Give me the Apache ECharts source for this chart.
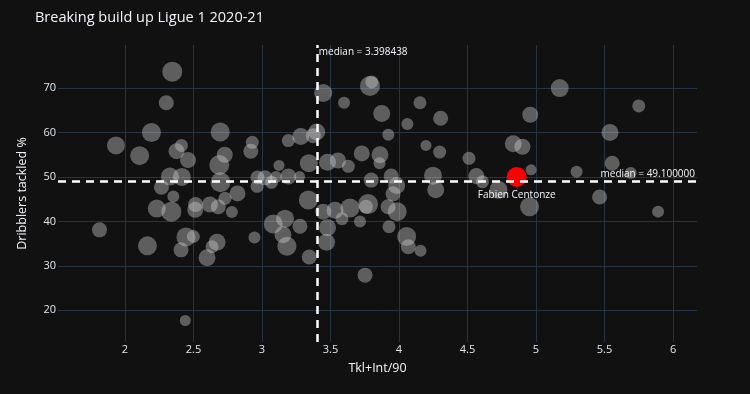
<!DOCTYPE html>
<html><head><meta charset="utf-8">
<script src="https://cdn.jsdelivr.net/npm/echarts@6/dist/echarts.min.js"></script>
<style>html,body{margin:0;padding:0;background:#111111;}#c{width:750px;height:394px;}</style>
</head><body><div id="c"></div>
<script>
const chartTitle = 'Breaking build up Ligue 1 2020-21';
const xName = 'Tkl+Int/90';
const yName = 'Dribblers tackled %';
const xTicks = [2, 2.5, 3, 3.5, 4, 4.5, 5, 5.5, 6];
const yTicks = [20, 30, 40, 50, 60, 70];
const xRange = [1.511, 6.175];
const yRange = [12.86, 79.7];
const medianX = 3.398438;
const medianY = 49.1;

const tklInt = [2.345,2.301,2.193,1.934,2.107,2.412,2.376,2.460,2.695,2.728,2.688,2.929,2.918,2.328,2.415,2.266,2.697,2.821,3.124,3.342,
2.353,2.232,2.338,2.515,2.513,2.620,2.681,2.780,2.730,2.967,3.022,3.069,2.964,3.102,3.192,3.274,3.338,3.447,1.814,2.164,
2.445,2.499,2.672,2.635,2.409,2.599,2.945,3.082,3.168,3.277,3.153,3.182,2.440,3.533,3.642,3.774,3.920,3.987,3.956,4.268,
3.345,3.478,3.471,3.584,3.715,3.927,4.056,4.068,4.157,3.752,3.447,3.788,3.801,3.599,3.874,4.153,4.304,4.061,3.922,3.399,
3.192,3.283,3.374,3.478,3.555,3.630,3.728,3.861,3.858,4.197,4.297,4.511,4.564,4.248,3.943,3.983,3.797,3.759,4.834,4.901,
4.964,4.609,4.726,5.296,5.556,5.691,5.464,4.953,5.891,5.173,5.750,4.958,5.540];
const dribTackled = [73.7,66.7,60.0,57.1,54.8,57.1,55.8,53.8,60.1,55.0,52.7,57.8,55.8,50.1,50.0,47.7,48.8,46.3,52.6,53.1,
45.6,42.9,42.2,43.8,42.6,43.8,43.3,42.1,45.2,49.9,49.8,48.8,47.9,50.0,50.1,50.1,44.8,42.2,38.1,34.5,
36.5,36.6,35.3,34.3,33.6,31.8,36.4,39.4,40.6,38.9,37.0,34.4,17.7,42.5,43.0,43.9,43.3,42.2,46.2,47.1,
32.0,38.6,35.3,40.6,40.0,38.8,36.6,34.3,33.4,27.9,68.9,70.5,71.4,66.7,64.3,66.7,63.2,61.9,59.5,60.1,
58.2,59.1,59.3,53.3,53.7,52.4,55.3,55.0,53.1,57.1,55.6,54.2,50.2,50.3,50.2,48.1,49.3,43.3,57.5,56.8,
51.6,48.9,47.1,51.2,53.1,50.9,45.5,43.3,42.2,70.0,66.0,64.0,60.0];
const bubbleMetric = [10,7.5,9.5,9,9.5,6.5,8,8,9.5,8,10,6.5,7.5,9,9,7.5,10,8,5.5,9,
6,9,10,7.5,8,8,7.5,6,6.5,7,7.5,6.5,6.5,6,8,5.5,9.5,8,7.5,9.5,
9.5,6.5,8.5,6.5,7.5,8.5,6,9.5,9,7.5,8.5,9.5,5.5,8.5,9.5,10,7.5,9.5,7.5,8.5,
7.5,8.5,8.5,6.5,6,6.5,9.5,7.5,6,7.5,9,10,6.5,6,8.5,6.5,7.5,6,6,8.5,
6.5,8.5,7.5,8.5,8,6.5,8,8.5,6,5.5,6.5,6.5,8,9,7.5,8.5,7.5,7,8.5,8,
5.5,6.5,9,6,7.5,6,7.5,9.5,6,9,6.5,8,8.5];
const highlightName = 'Fabien Centonze';
const highlightPoint = [4.859, 50.0, 10];

const FONT = '"Open Sans", sans-serif';
const TXT = '#f2f5fa';
const points = tklInt.map((x, i) => [x, dribTackled[i], bubbleMetric[i]]);
const near = (arr, v) => arr.some(t => Math.abs(t - v) < 1e-6);

const chart = echarts.init(document.getElementById('c'), null, {renderer: 'canvas'});
chart.setOption({
  backgroundColor: '#111111',
  animation: false,
  textStyle: {fontFamily: FONT},
  title: {text: chartTitle, left: 35, top: 10, padding: 0,
    textStyle: {color: TXT, fontSize: 14.5, fontWeight: 'normal', fontFamily: FONT}},
  grid: {left: 58, right: 53, top: 45, bottom: 52, containLabel: false},
  xAxis: {type: 'value', min: xRange[0], max: xRange[1], splitNumber: 9,
    name: xName, nameLocation: 'middle', nameGap: 20,
    nameTextStyle: {color: TXT, fontSize: 12.5, fontFamily: FONT},
    axisLine: {show: false}, axisTick: {show: false},
    axisLabel: {color: '#e2e6ec', fontSize: 11, margin: 2, fontFamily: FONT,
      showMinLabel: false, showMaxLabel: false,
      formatter: v => near(xTicks, v) ? String(+v.toFixed(2)) : ''},
    splitLine: {show: true, showMinLine: false, showMaxLine: false, lineStyle: {color: '#283442', width: 1}}},
  yAxis: {type: 'value', min: yRange[0], max: yRange[1], splitNumber: 5,
    name: yName, nameLocation: 'middle', nameGap: 29,
    nameTextStyle: {color: TXT, fontSize: 12.5, fontFamily: FONT},
    axisLine: {show: false}, axisTick: {show: false},
    axisLabel: {color: '#e2e6ec', fontSize: 11, margin: 2, fontFamily: FONT,
      showMinLabel: false, showMaxLabel: false,
      formatter: v => near(yTicks, v) ? String(Math.round(v)) : ''},
    splitLine: {show: true, showMinLine: false, showMaxLine: false, lineStyle: {color: '#283442', width: 1}}},
  series: [
    {type: 'scatter', data: points, z: 2,
      symbolSize: v => v[2] * 2,
      itemStyle: {color: 'rgba(211,211,211,0.5)', borderWidth: 0}},
    {type: 'scatter', data: [{name: highlightName, value: highlightPoint}], z: 3,
      symbolSize: v => v[2] * 2,
      itemStyle: {color: '#ff0000', opacity: 1},
      label: {show: true, position: 'bottom', distance: 3, formatter: p => p.name,
        color: TXT, fontSize: 10, fontFamily: FONT}},
    {type: 'scatter', data: [], z: 5, silent: true,
      markLine: {silent: true, symbol: ['none', 'none'], animation: false,
        lineStyle: {color: '#ffffff', type: [8, 6], width: 2.5, opacity: 1},
        data: [
          {xAxis: medianX, label: {show: true, position: 'end', align: 'left', verticalAlign: 'top',
            distance: [0, -2.5], padding: [0, 0, 0, 2],
            formatter: 'median = ' + medianX.toFixed(6), color: TXT, fontSize: 10, fontFamily: FONT}},
          {yAxis: medianY, label: {show: true, position: 'insideEndTop', distance: 2,
            formatter: 'median = ' + medianY.toFixed(6), color: TXT, fontSize: 10, fontFamily: FONT}}
        ]}}
  ]
});
</script></body></html>
